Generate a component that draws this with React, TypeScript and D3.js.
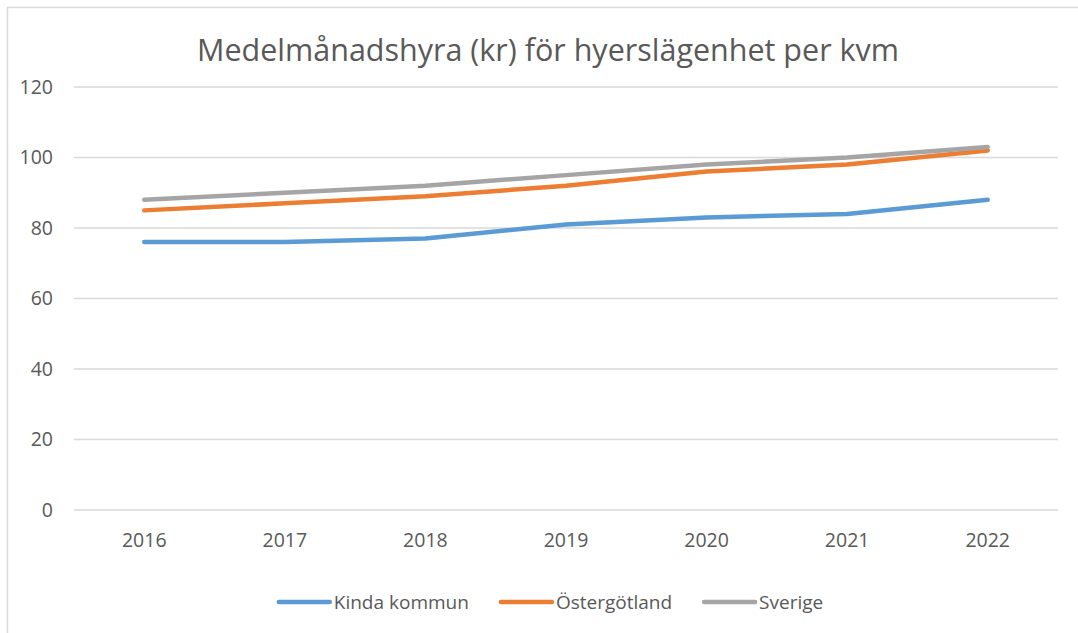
import React, { useEffect, useRef } from 'react';
import * as d3 from 'd3';

const years = ['2016', '2017', '2018', '2019', '2020', '2021', '2022'];
const kinda = [76, 76, 77, 81, 83, 84, 88];
const ostergotland = [85, 87, 89, 92, 96, 98, 102];
const sverige = [88, 90, 92, 95, 98, 100, 103];
const seriesNames = ['Kinda kommun', 'Östergötland', 'Sverige'];
const seriesColors = ['#5b9bd5', '#ed7d31', '#a5a5a5'];
const yTicks = [0, 20, 40, 60, 80, 100, 120];
const title = 'Medelmånadshyra (kr) för hyerslägenhet per kvm';

const W = 1078;
const H = 633;
const FONT = '"Open Sans", "Noto Sans", sans-serif';
const TEXT = '#595959';

const App = () => {
  const ref = useRef<SVGSVGElement>(null);

  useEffect(() => {
    const svg = d3.select(ref.current);
    svg.selectAll('*').remove();

    // chart frame, cut by the picture on the right and bottom
    svg.append('rect')
      .attr('x', 7.5).attr('y', 7.5)
      .attr('width', 1200).attr('height', 800)
      .attr('fill', '#fff')
      .attr('stroke', '#d9d9d9')
      .attr('stroke-width', 1.5);

    const x = d3.scaleBand().domain(years).range([74, 1058]);
    const y = d3.scaleLinear().domain([0, 120]).range([510, 87]);
    const cx = (d: string) => (x(d) as number) + x.bandwidth() / 2;

    svg.append('text')
      .attr('x', 548).attr('y', 61)
      .attr('text-anchor', 'middle')
      .attr('font-family', FONT)
      .attr('font-size', 31)
      .attr('fill', TEXT)
      .attr('textLength', 702)
      .attr('lengthAdjust', 'spacingAndGlyphs')
      .text(title);

    const grid = svg.append('g');
    grid.selectAll('line')
      .data(yTicks)
      .join('line')
      .attr('x1', 74).attr('x2', 1058)
      .attr('y1', d => y(d)).attr('y2', d => y(d))
      .attr('stroke', '#d9d9d9')
      .attr('stroke-width', 1.3);

    grid.selectAll('text')
      .data(yTicks)
      .join('text')
      .attr('x', 53)
      .attr('y', d => y(d))
      .attr('dy', '0.35em')
      .attr('text-anchor', 'end')
      .attr('font-family', FONT)
      .attr('font-size', 19.5)
      .attr('fill', TEXT)
      .text(d => d);

    svg.append('g').selectAll('text')
      .data(years)
      .join('text')
      .attr('x', d => cx(d))
      .attr('y', 547)
      .attr('text-anchor', 'middle')
      .attr('font-family', FONT)
      .attr('font-size', 19.5)
      .attr('fill', TEXT)
      .text(d => d);

    const line = d3.line<number>()
      .x((_, i) => cx(years[i]))
      .y(d => y(d));

    [kinda, ostergotland, sverige].forEach((vals, i) => {
      svg.append('path')
        .attr('d', line(vals))
        .attr('fill', 'none')
        .attr('stroke', seriesColors[i])
        .attr('stroke-width', 4.5)
        .attr('stroke-linecap', 'round')
        .attr('stroke-linejoin', 'round');
    });

    // legend, centred under the plot
    const legend = svg.append('g');
    const items = seriesNames.map((name, i) => {
      const g = legend.append('g');
      g.append('line')
        .attr('x1', 0).attr('x2', 51)
        .attr('y1', 602).attr('y2', 602)
        .attr('stroke', seriesColors[i])
        .attr('stroke-width', 4.5)
        .attr('stroke-linecap', 'round');
      const t = g.append('text')
        .attr('x', 55).attr('y', 602)
        .attr('dy', '0.35em')
        .attr('font-family', FONT)
        .attr('font-size', 19)
        .attr('fill', TEXT)
        .text(name);
      const w = 55 + (t.node() as SVGTextElement).getComputedTextLength();
      return { g, w };
    });
    const gap = 32;
    const total = d3.sum(items, d => d.w) + gap * (items.length - 1);
    let pos = 551 - total / 2;
    items.forEach(({ g, w }) => {
      g.attr('transform', `translate(${pos},0)`);
      pos += w + gap;
    });
  }, []);

  return (
    <svg
      ref={ref}
      width={W}
      height={H}
      style={{ position: 'absolute', left: 0, top: 0, background: '#fff' }}
    />
  );
};

export default App;
